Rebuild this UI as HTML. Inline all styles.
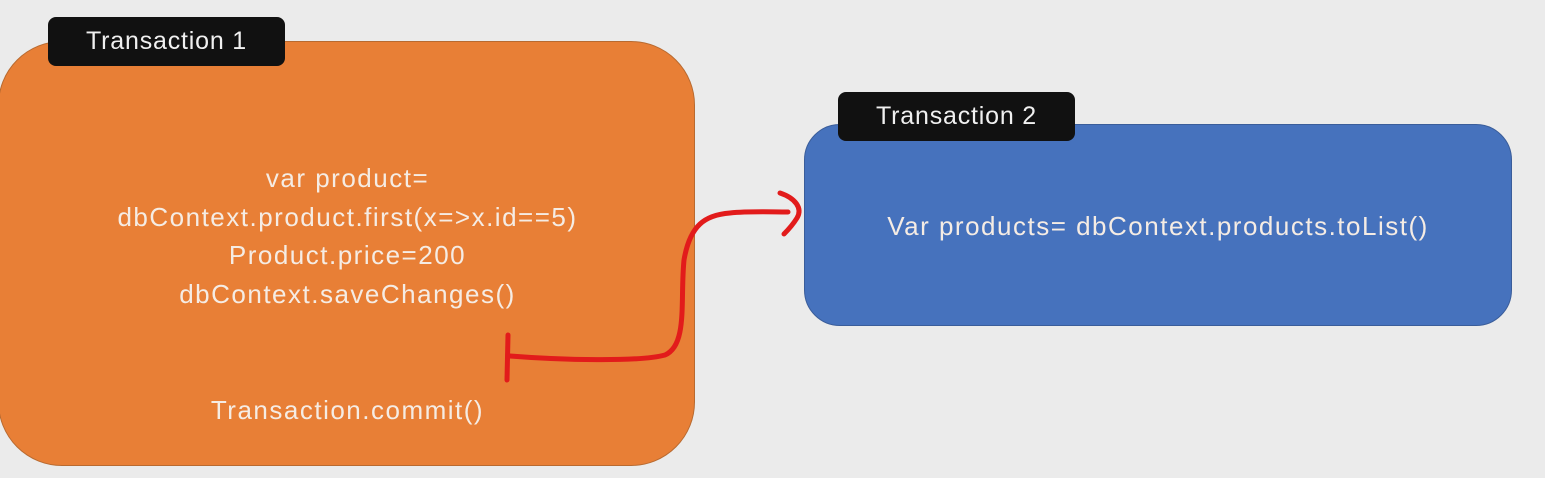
<!DOCTYPE html>
<html><head><style>
body{margin:0;width:1545px;height:478px;background:#ebebeb;position:relative;overflow:hidden;font-family:"Liberation Sans",sans-serif;}
.box{position:absolute;}
.t{position:absolute;color:#f5ece4;font-size:26px;letter-spacing:1.5px;text-align:center;white-space:nowrap;}
.tab{position:absolute;background:#111;color:#f0f0f0;font-size:25px;letter-spacing:0.8px;border-radius:8px;text-align:center;line-height:49px;}
</style></head><body>
<div class="box" style="left:-2px;top:41px;width:697px;height:425px;background:#e87f36;border-radius:64px;border:1px solid #b86a30;box-sizing:border-box"></div>
<div class="box" style="left:804px;top:124px;width:708px;height:202px;background:#4672bd;border-radius:36px;border:1px solid #3a5d9a;box-sizing:border-box"></div>
<div class="tab" style="left:48px;top:17px;width:237px;height:49px">Transaction 1</div>
<div class="tab" style="left:838px;top:92px;width:237px;height:49px">Transaction 2</div>
<div class="t" style="left:0;width:695px;top:163px">var product=</div>
<div class="t" style="left:0;width:695px;top:202px">dbContext.product.first(x=&gt;x.id==5)</div>
<div class="t" style="left:0;width:695px;top:240px">Product.price=200</div>
<div class="t" style="left:0;width:695px;top:279px">dbContext.saveChanges()</div>
<div class="t" style="left:0;width:695px;top:395px">Transaction.commit()</div>
<div class="t" style="left:804px;width:708px;top:211px">Var products= dbContext.products.toList()</div>
<svg width="1545" height="478" style="position:absolute;left:0;top:0">
<g fill="none" stroke="#e21b1b" stroke-width="5" stroke-linecap="round" stroke-linejoin="round">
<path d="M510 356 C560 360 640 362 665 355 C688 345 680 300 684 260 C690 225 705 215 730 213 C750 211 770 212 788 212"/>
<path d="M780 193 C795 198 803 208 797 218 C792 226 788 230 784 234"/>
<path d="M508 335 L507 380"/>
</g>
</svg>
</body></html>
